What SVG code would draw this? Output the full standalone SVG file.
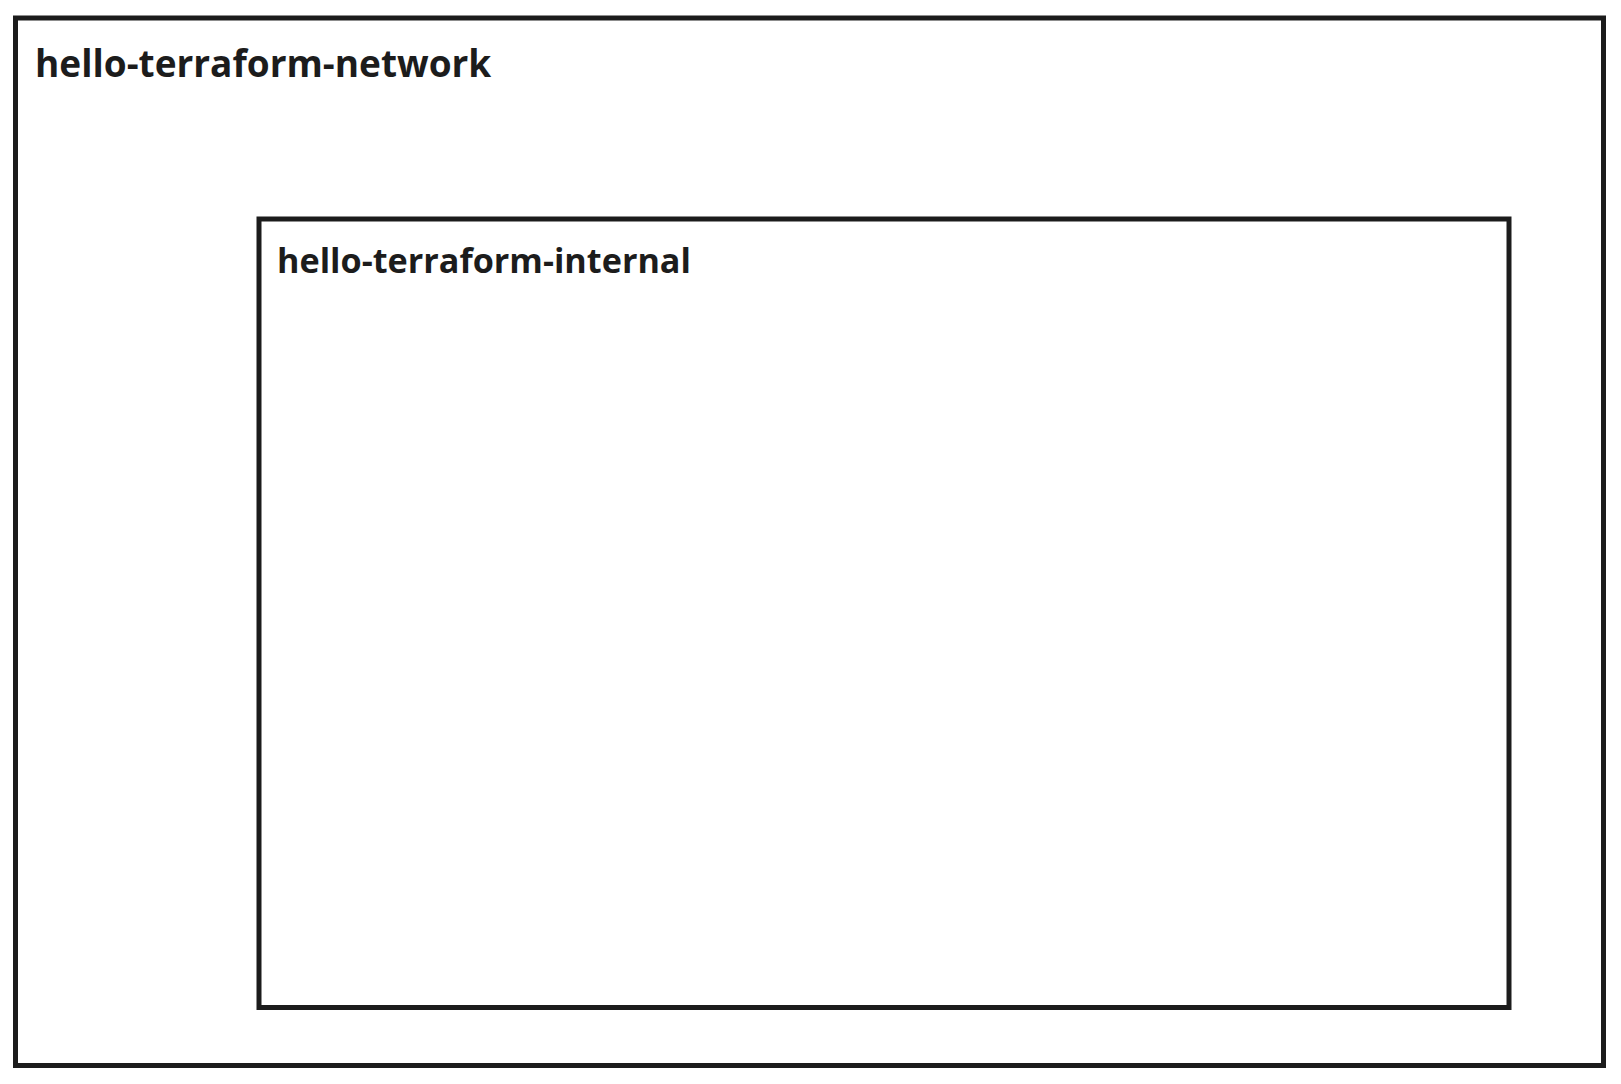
<svg xmlns="http://www.w3.org/2000/svg" width="1621" height="1084" viewBox="0 0 1621 1084">
<style>
.box{fill:none;stroke:#1c1c1c;stroke-width:5}
.lbl{font-family:"Open Sans","Noto Sans",sans-serif;font-weight:bold;fill:#1c1c1c}
</style>
<rect width="1621" height="1084" fill="#fff"/>
<g id="hello-terraform-network">
<rect class="box" x="15.5" y="18" width="1588" height="1047.5"/>
<text class="lbl" x="35" y="77" font-size="37">hello-terraform-network</text>
</g>
<g id="hello-terraform-internal">
<rect class="box" x="259" y="219" width="1250" height="788.5"/>
<text class="lbl" x="277" y="272.5" font-size="34.2">hello-terraform-internal</text>
</g>
<g id="connectors"/>
</svg>
